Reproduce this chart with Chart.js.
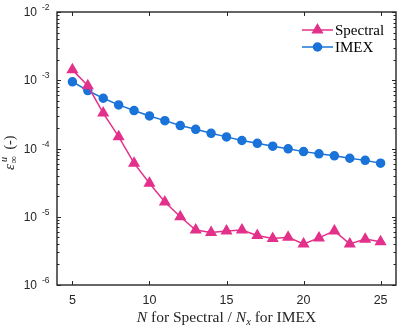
<!DOCTYPE html>
<html>
<head>
<meta charset="utf-8">
<script src="https://cdn.jsdelivr.net/npm/chart.js@4/dist/chart.umd.min.js"></script>
<style>
  html, body { margin: 0; padding: 0; background: #fff; }
  #wrap { width: 403px; height: 329px; position: relative; }
</style>
</head>
<body>
<div id="wrap"><canvas id="errChart"></canvas></div>
<script>
// values
const nValues = [5, 6, 7, 8, 9, 10, 11, 12, 13, 14, 15, 16, 17, 18, 19, 20, 21, 22, 23, 24, 25];
const spectralErr = [1.42e-3, 8.3e-4, 3.3e-4, 1.49e-4, 6.1e-5, 3.1e-5, 1.64e-5, 1.0e-5, 6.4e-6, 5.9e-6, 6.2e-6,
                     6.4e-6, 5.3e-6, 4.8e-6, 5.0e-6, 4.0e-6, 4.9e-6, 6.2e-6, 4.0e-6, 4.7e-6, 4.3e-6];
const imexErr = [9.5e-4, 7.05e-4, 5.45e-4, 4.35e-4, 3.6e-4, 3.0e-4, 2.56e-4, 2.17e-4, 1.91e-4, 1.67e-4, 1.48e-4,
                 1.31e-4, 1.19e-4, 1.08e-4, 9.9e-5, 9.0e-5, 8.35e-5, 7.8e-5, 7.2e-5, 6.7e-5, 6.1e-5];
const xTicks = [5, 10, 15, 20, 25];
const yExponents = [-6, -5, -4, -3, -2];

const magenta = '#e3318b';
const blue = '#1a73d9';
const axisColor = '#262626';
const serif = '"Liberation Serif", "DejaVu Serif", serif';

const toPoints = vals => nValues.map((n, i) => ({ x: n, y: vals[i] }));

// axes box, ticks, labels and legend drawn MATLAB-style
const frame = {
    id: 'frame',
    afterDraw(chart) {
        const ctx = chart.ctx;
        const a = chart.chartArea;
        const xs = chart.scales.x, ys = chart.scales.y;
        ctx.save();
        ctx.strokeStyle = axisColor;
        ctx.fillStyle = axisColor;
        ctx.lineWidth = 1;

        // ticks inside, mirrored
        ctx.beginPath();
        xTicks.forEach(t => {
            const px = Math.round(xs.getPixelForValue(t)) + 0.5;
            ctx.moveTo(px, a.bottom); ctx.lineTo(px, a.bottom - 4);
            ctx.moveTo(px, a.top); ctx.lineTo(px, a.top + 4);
        });
        yExponents.forEach((e, k) => {
            const py = Math.round(ys.getPixelForValue(Math.pow(10, e))) + 0.5;
            ctx.moveTo(a.left, py); ctx.lineTo(a.left + 4, py);
            ctx.moveTo(a.right, py); ctx.lineTo(a.right - 4, py);
            if (k < yExponents.length - 1) {
                for (let m = 2; m <= 9; m++) {
                    const my = Math.round(ys.getPixelForValue(m * Math.pow(10, e))) + 0.5;
                    ctx.moveTo(a.left, my); ctx.lineTo(a.left + 2.5, my);
                    ctx.moveTo(a.right, my); ctx.lineTo(a.right - 2.5, my);
                }
            }
        });
        ctx.stroke();

        ctx.lineWidth = 1.4;
        ctx.strokeRect(a.left, a.top, a.right - a.left, a.bottom - a.top);

        // x tick labels
        ctx.font = '12.5px "Liberation Sans", Arial, sans-serif';
        ctx.textAlign = 'center';
        ctx.textBaseline = 'alphabetic';
        xTicks.forEach(t => ctx.fillText(String(t), xs.getPixelForValue(t), a.bottom + 19));

        // y tick labels 10^e
        yExponents.forEach(e => {
            const py = ys.getPixelForValue(Math.pow(10, e));
            ctx.font = '12px "Liberation Sans", Arial, sans-serif';
            ctx.textAlign = 'right';
            ctx.fillText('10', 37, py + 4);
            ctx.font = '8.5px "Liberation Sans", Arial, sans-serif';
            ctx.textAlign = 'left';
            ctx.fillText(String(e), 42, py - 2);
        });

        // x title
        const parts = [
            { t: 'N', f: 'italic 15.5px ' + serif, dy: 0 },
            { t: ' for Spectral / ', f: '15.5px ' + serif, dy: 0 },
            { t: 'N', f: 'italic 15.5px ' + serif, dy: 0 },
            { t: 'x', f: 'italic 10.5px ' + serif, dy: 3 },
            { t: ' for IMEX', f: '15.5px ' + serif, dy: 0 }
        ];
        let total = 0;
        parts.forEach(p => { ctx.font = p.f; p.w = ctx.measureText(p.t).width; total += p.w; });
        let cx = (a.left + a.right) / 2 - total / 2;
        ctx.textAlign = 'left';
        parts.forEach(p => { ctx.font = p.f; ctx.fillText(p.t, cx, 322 + p.dy); cx += p.w; });

        // y title, rotated
        ctx.translate(14, 170);
        ctx.rotate(-Math.PI / 2);
        ctx.font = 'italic 15px ' + serif;
        ctx.fillText('\u03b5', 0, 0);
        let ox = ctx.measureText('\u03b5').width + 0.5;
        ctx.font = '10.5px ' + serif;
        ctx.fillText('\u221e', ox, 3);
        ctx.font = 'italic 10px ' + serif;
        ctx.fillText('u', ox + 1.5, -7);
        ox += 14;
        ctx.font = '14px ' + serif;
        ctx.fillText('(-)', ox, 0);
        ctx.restore();

        // legend
        ctx.save();
        chart.data.datasets.forEach((ds, i) => {
            const ly = 30 + i * 17;
            ctx.strokeStyle = ds.borderColor;
            ctx.lineWidth = 1.5;
            ctx.beginPath();
            ctx.moveTo(302, ly); ctx.lineTo(333, ly);
            ctx.stroke();
            Chart.helpers.drawPoint(ctx, {
                pointStyle: ds.pointStyle, radius: ds.pointRadius, borderWidth: 1, rotation: 0
            }, 317.5, ly);
            ctx.fillStyle = ds.borderColor;
            ctx.strokeStyle = ds.borderColor;
            ctx.fill();
            ctx.fillStyle = '#000';
            ctx.font = '15px ' + serif;
            ctx.textAlign = 'left';
            ctx.fillText(ds.label, 335, ly + 5);
        });
        ctx.restore();
    }
};

new Chart(document.getElementById('errChart'), {
    type: 'line',
    data: {
        datasets: [
            {
                label: 'Spectral',
                data: toPoints(spectralErr),
                borderColor: magenta,
                backgroundColor: magenta,
                pointBackgroundColor: magenta,
                pointBorderColor: magenta,
                pointStyle: 'triangle',
                pointRadius: 5.5,
                borderWidth: 1.5
            },
            {
                label: 'IMEX',
                data: toPoints(imexErr),
                borderColor: blue,
                backgroundColor: blue,
                pointBackgroundColor: blue,
                pointBorderColor: blue,
                pointStyle: 'circle',
                pointRadius: 4,
                borderWidth: 1.5
            }
        ]
    },
    options: {
        responsive: true,
        maintainAspectRatio: false,
        animation: false,
        layout: { padding: { left: 57, right: 5, top: 12, bottom: 44 } },
        plugins: { legend: { display: false }, tooltip: { enabled: false } },
        scales: {
            x: { type: 'linear', min: 4, max: 26, display: false },
            y: { type: 'logarithmic', min: 1e-6, max: 1e-2, display: false }
        }
    },
    plugins: [frame]
});
</script>
</body>
</html>
